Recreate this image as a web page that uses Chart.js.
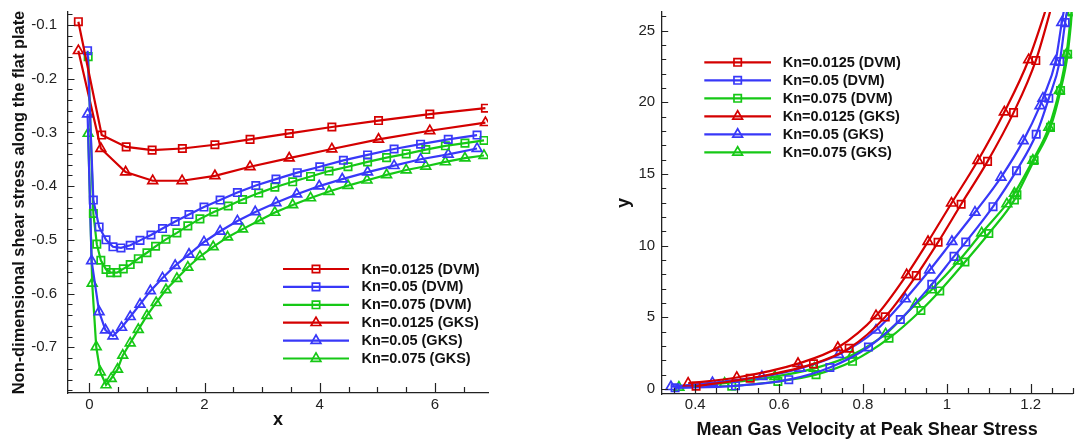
<!DOCTYPE html>
<html>
<head>
<meta charset="utf-8">
<script src="https://cdn.jsdelivr.net/npm/chart.js@4.4.1/dist/chart.umd.min.js"></script>
<style>
  html, body { margin: 0; padding: 0; background: #fff; }
  #wrap { position: relative; width: 1080px; height: 441px; overflow: hidden; }
  #shear { position: absolute; left: 0; top: 0; }
  #profile { position: absolute; left: 580px; top: 0; }
</style>
</head>
<body>
<div id="wrap">
  <canvas id="shear" width="540" height="441"></canvas>
  <canvas id="profile" width="500" height="441"></canvas>
</div>
<script>
// ---- wall shear stress along the plate ----
var dvm0125X = [-0.19, 0.215, 0.64, 1.09, 1.615, 2.18, 2.79, 3.47, 4.21, 5.02, 5.91, 6.875];
var dvm0125Y = [-0.094, -0.305, -0.327, -0.333, -0.330, -0.323, -0.313, -0.302, -0.290, -0.278, -0.266, -0.255];
var gks0125X = [-0.19, 0.20, 0.63, 1.10, 1.61, 2.18, 2.79, 3.47, 4.21, 5.02, 5.91, 6.875];
var gks0125Y = [-0.148, -0.330, -0.374, -0.390, -0.390, -0.381, -0.364, -0.348, -0.331, -0.313, -0.297, -0.282];

var dvm05X = [-0.03, 0.07, 0.17, 0.29, 0.41, 0.55, 0.71, 0.88, 1.07, 1.27, 1.49, 1.73, 1.99, 2.27, 2.57, 2.89, 3.24, 3.61, 4.00, 4.41, 4.83, 5.29, 5.75, 6.23, 6.73];
var dvm05Y = [-0.148, -0.426, -0.476, -0.500, -0.513, -0.515, -0.510, -0.501, -0.491, -0.479, -0.466, -0.453, -0.439, -0.426, -0.412, -0.399, -0.387, -0.375, -0.364, -0.352, -0.342, -0.331, -0.322, -0.313, -0.305];
var gks05X = [-0.03, 0.04, 0.17, 0.28, 0.41, 0.56, 0.71, 0.88, 1.06, 1.27, 1.49, 1.73, 1.99, 2.27, 2.57, 2.88, 3.24, 3.60, 3.99, 4.39, 4.83, 5.29, 5.75, 6.23, 6.73];
var gks05Y = [-0.266, -0.539, -0.634, -0.668, -0.679, -0.663, -0.643, -0.620, -0.595, -0.571, -0.548, -0.527, -0.504, -0.484, -0.465, -0.448, -0.431, -0.415, -0.400, -0.387, -0.374, -0.362, -0.350, -0.341, -0.330];

var dvm075X = [-0.02, 0.07, 0.13, 0.20, 0.29, 0.37, 0.48, 0.59, 0.71, 0.85, 1.00, 1.15, 1.33, 1.52, 1.71, 1.92, 2.16, 2.41, 2.66, 2.94, 3.22, 3.53, 3.84, 4.16, 4.49, 4.83, 5.16, 5.50, 5.84, 6.18, 6.52, 6.85];
var dvm075Y = [-0.159, -0.451, -0.508, -0.538, -0.555, -0.561, -0.561, -0.554, -0.546, -0.535, -0.524, -0.512, -0.499, -0.487, -0.474, -0.461, -0.448, -0.437, -0.425, -0.413, -0.402, -0.392, -0.382, -0.372, -0.364, -0.355, -0.347, -0.340, -0.332, -0.325, -0.320, -0.315];
var gks075X = [-0.02, 0.05, 0.12, 0.19, 0.29, 0.38, 0.49, 0.58, 0.71, 0.85, 1.00, 1.16, 1.33, 1.52, 1.71, 1.92, 2.15, 2.40, 2.66, 2.95, 3.22, 3.53, 3.84, 4.16, 4.49, 4.82, 5.16, 5.50, 5.84, 6.18, 6.52, 6.85];
var gks075Y = [-0.302, -0.581, -0.699, -0.746, -0.770, -0.758, -0.741, -0.715, -0.692, -0.667, -0.641, -0.617, -0.593, -0.572, -0.551, -0.531, -0.513, -0.495, -0.480, -0.464, -0.449, -0.435, -0.422, -0.410, -0.399, -0.389, -0.379, -0.370, -0.363, -0.355, -0.348, -0.343];

var shearXTicks = [0, 2, 4, 6];
var shearYTicks = [-0.7, -0.6, -0.5, -0.4, -0.3, -0.2, -0.1];

// ---- velocity profile at the peak shear location ----
var uDvm0125 = [0.402, 0.531, 0.682, 0.767, 0.853, 0.927, 0.979, 1.034, 1.097, 1.159, 1.212, 1.262];
var yDvm0125 = [0.20, 0.75, 1.75, 2.84, 5.03, 7.91, 10.24, 12.89, 15.88, 19.28, 22.91, 28];
var uGks0125 = [0.383, 0.499, 0.645, 0.740, 0.831, 0.904, 0.955, 1.011, 1.074, 1.137, 1.195, 1.253];
var yGks0125 = [0.40, 0.80, 1.77, 2.89, 5.11, 7.96, 10.28, 12.96, 15.94, 19.32, 22.97, 28];

var uDvm05 = [0.352, 0.496, 0.623, 0.721, 0.813, 0.889, 0.964, 1.017, 1.045, 1.110, 1.166, 1.213, 1.243, 1.269, 1.282, 1.296];
var yDvm05 = [0.08, 0.22, 0.65, 1.50, 2.93, 4.85, 7.30, 9.25, 10.25, 12.72, 15.23, 17.77, 20.28, 22.84, 25.56, 28];
var uGks05 = [0.342, 0.441, 0.559, 0.650, 0.742, 0.831, 0.901, 0.959, 1.012, 1.067, 1.129, 1.182, 1.222, 1.229, 1.259, 1.274, 1.289];
var yGks05 = [0.16, 0.44, 0.86, 1.44, 2.40, 4.10, 6.28, 8.30, 10.28, 12.33, 14.77, 17.31, 19.75, 20.28, 22.84, 25.56, 28];

var uDvm075 = [0.487, 0.597, 0.688, 0.775, 0.862, 0.938, 0.983, 1.043, 1.100, 1.161, 1.167, 1.208, 1.247, 1.271, 1.288, 1.299, 1.307];
var yDvm075 = [0.20, 0.52, 1.00, 1.93, 3.54, 5.48, 6.84, 8.86, 10.85, 13.19, 13.54, 15.95, 18.25, 20.82, 23.35, 26.3, 28];
var uGks075 = [0.361, 0.470, 0.590, 0.684, 0.774, 0.854, 0.926, 0.963, 1.028, 1.083, 1.143, 1.161, 1.205, 1.243, 1.268, 1.285, 1.297, 1.305];
var yGks075 = [0.12, 0.40, 0.86, 1.44, 2.37, 3.84, 5.93, 6.91, 8.93, 10.88, 12.91, 13.65, 15.95, 18.25, 20.82, 23.35, 26.3, 28];

var profileXTicks = [0.4, 0.6, 0.8, 1, 1.2];
var profileYTicks = [0, 5, 10, 15, 20, 25];

var seriesLabels = ['Kn=0.0125 (DVM)', 'Kn=0.05 (DVM)', 'Kn=0.075 (DVM)',
                    'Kn=0.0125 (GKS)', 'Kn=0.05 (GKS)', 'Kn=0.075 (GKS)'];

var RED = '#d40000', BLUE = '#3838f8', GREEN = '#16c816';
var FONT = '"Liberation Sans", Arial, Helvetica, sans-serif';

function pts(xs, ys) {
  return xs.map(function (x, i) { return { x: x, y: ys[i] }; });
}

function series(label, xs, ys, color, marker, smooth) {
  var r = marker === 'rect' ? 5.2 : 5.6;
  return {
    label: label,
    data: pts(xs, ys),
    showLine: true,
    borderColor: color,
    borderWidth: 2.2,
    pointStyle: marker,
    pointRadius: r,
    pointHoverRadius: r,
    pointBorderColor: color,
    pointBackgroundColor: 'rgba(0,0,0,0)',
    pointBorderWidth: 1.7,
    tension: 0,
    cubicInterpolationMode: smooth ? 'monotone' : 'default',
    clip: 0
  };
}

// hollow marker, same geometry as Chart.js rect / triangle
function marker(ctx, style, r, x, y) {
  ctx.beginPath();
  if (style === 'rect') {
    var s = r * Math.SQRT1_2;
    ctx.rect(x - s, y - s, 2 * s, 2 * s);
  } else {
    var a = 0;
    ctx.moveTo(x + Math.sin(a) * r, y - Math.cos(a) * r);
    a += 2 * Math.PI / 3;
    ctx.lineTo(x + Math.sin(a) * r, y - Math.cos(a) * r);
    a += 2 * Math.PI / 3;
    ctx.lineTo(x + Math.sin(a) * r, y - Math.cos(a) * r);
    ctx.closePath();
  }
  ctx.stroke();
}

// inward major/minor ticks on the bottom and left axes
var inwardTicks = {
  id: 'inwardTicks',
  afterDatasetsDraw: function (chart, args, o) {
    var ctx = chart.ctx, a = chart.chartArea;
    var xs = chart.scales.x, ys = chart.scales.y;
    ctx.save();
    ctx.strokeStyle = '#222';
    ctx.lineWidth = 1.2;
    ctx.beginPath();
    var k, v, p, major;
    for (k = Math.ceil(xs.min / o.xMinor - 1e-6); k * o.xMinor <= xs.max + 1e-9; k++) {
      v = k * o.xMinor;
      major = ((k % o.xRatio) + o.xRatio) % o.xRatio === 0;
      p = Math.round(xs.getPixelForValue(v)) + 0.5;
      ctx.moveTo(p, a.bottom);
      ctx.lineTo(p, a.bottom - (major ? 10 : 6));
    }
    for (k = Math.ceil(ys.min / o.yMinor - 1e-6); k * o.yMinor <= ys.max + 1e-9; k++) {
      v = k * o.yMinor;
      major = ((k % o.yRatio) + o.yRatio) % o.yRatio === 0;
      p = Math.round(ys.getPixelForValue(v)) + 0.5;
      ctx.moveTo(a.left, p);
      ctx.lineTo(a.left + (major ? 6.5 : 4.5), p);
    }
    ctx.stroke();
    ctx.restore();
  }
};

// legend rows: line segment, marker in the middle, bold label
var lineLegend = {
  id: 'lineLegend',
  afterDraw: function (chart, args, o) {
    var ctx = chart.ctx;
    ctx.save();
    chart.data.datasets.forEach(function (ds, i) {
      var y = o.top + i * o.gap;
      ctx.strokeStyle = ds.borderColor;
      ctx.lineWidth = ds.borderWidth;
      ctx.beginPath();
      ctx.moveTo(o.left, y);
      ctx.lineTo(o.left + o.len, y);
      ctx.stroke();
      ctx.lineWidth = ds.pointBorderWidth;
      marker(ctx, ds.pointStyle, ds.pointRadius, o.left + o.len / 2, y);
      ctx.fillStyle = '#111';
      ctx.font = 'bold 14.5px ' + FONT;
      ctx.textBaseline = 'middle';
      ctx.textAlign = 'left';
      ctx.fillText(ds.label, o.textX, y + 0.5);
    });
    ctx.restore();
  }
};

function axes(opt) {
  var tickFont = { family: FONT, size: 15 };
  return {
    x: {
      type: 'linear', min: opt.xMin, max: opt.xMax,
      grid: { display: false, drawTicks: false },
      border: { display: true, color: '#222', width: 1.3 },
      afterBuildTicks: function (s) { s.ticks = opt.xTicks.map(function (v) { return { value: v }; }); },
      afterFit: function (s) { s.height = opt.xHeight; s.paddingLeft = 0; s.paddingRight = 0; },
      ticks: { color: '#222', font: tickFont, padding: opt.xPad, maxRotation: 0,
               callback: function (v) { return String(v); } },
      title: { display: true, text: opt.xTitle, color: '#111',
               font: { family: FONT, size: 18, weight: 'bold' },
               padding: { top: 0, bottom: opt.xTitlePad } }
    },
    y: {
      type: 'linear', min: opt.yMin, max: opt.yMax,
      grid: { display: false, drawTicks: false },
      border: { display: true, color: '#222', width: 1.3 },
      afterBuildTicks: function (s) { s.ticks = opt.yTicks.map(function (v) { return { value: v }; }); },
      afterFit: function (s) { s.width = opt.yWidth; s.paddingTop = 0; s.paddingBottom = 0; },
      ticks: { color: '#222', font: tickFont, padding: opt.yPad,
               callback: function (v) { return String(v); } },
      title: { display: true, text: opt.yTitle, color: '#111',
               font: { family: FONT, size: opt.yTitleSize, weight: 'bold' },
               padding: { top: opt.yTitlePad, bottom: 0 } }
    }
  };
}

new Chart(document.getElementById('shear'), {
  type: 'scatter',
  data: {
    datasets: [
      series(seriesLabels[0], dvm0125X, dvm0125Y, RED, 'rect', false),
      series(seriesLabels[1], dvm05X, dvm05Y, BLUE, 'rect', false),
      series(seriesLabels[2], dvm075X, dvm075Y, GREEN, 'rect', false),
      series(seriesLabels[3], gks0125X, gks0125Y, RED, 'triangle', false),
      series(seriesLabels[4], gks05X, gks05Y, BLUE, 'triangle', false),
      series(seriesLabels[5], gks075X, gks075Y, GREEN, 'triangle', false)
    ]
  },
  options: {
    responsive: false,
    animation: false,
    events: [],
    layout: { padding: { top: 12, right: 52, bottom: 0, left: 0 } },
    scales: axes({
      xMin: -0.37, xMax: 6.92, xTicks: shearXTicks, xHeight: 48, xPad: 3, xTitle: 'x', xTitlePad: 9.7,
      yMin: -0.785, yMax: -0.076, yTicks: shearYTicks, yWidth: 68, yPad: 11,
      yTitle: 'Non-dimensional shear stress along the flat plate', yTitleSize: 16.4, yTitlePad: 10
    }),
    plugins: {
      legend: { display: false },
      tooltip: { enabled: false },
      inwardTicks: { xMinor: 0.5, xRatio: 4, yMinor: 0.02, yRatio: 5 },
      lineLegend: { left: 283, len: 66, top: 269, gap: 17.9, textX: 361.5 }
    }
  },
  plugins: [inwardTicks, lineLegend]
});

new Chart(document.getElementById('profile'), {
  type: 'scatter',
  data: {
    datasets: [
      series(seriesLabels[0], uDvm0125, yDvm0125, RED, 'rect', true),
      series(seriesLabels[1], uDvm05, yDvm05, BLUE, 'rect', true),
      series(seriesLabels[2], uDvm075, yDvm075, GREEN, 'rect', true),
      series(seriesLabels[3], uGks0125, yGks0125, RED, 'triangle', true),
      series(seriesLabels[4], uGks05, yGks05, BLUE, 'triangle', true),
      series(seriesLabels[5], uGks075, yGks075, GREEN, 'triangle', true)
    ]
  },
  options: {
    responsive: false,
    animation: false,
    events: [],
    layout: { padding: { top: 12, right: 0.7, bottom: 0, left: 0 } },
    scales: axes({
      xMin: 0.32, xMax: 1.30, xTicks: profileXTicks, xHeight: 47, xPad: 2,
      xTitle: 'Mean Gas Velocity at Peak Shear Stress', xTitlePad: 0.4,
      yMin: -0.35, yMax: 26.3, yTicks: profileYTicks, yWidth: 81.7, yPad: 6.5,
      yTitle: 'y', yTitleSize: 18, yTitlePad: 33
    }),
    plugins: {
      legend: { display: false },
      tooltip: { enabled: false },
      inwardTicks: { xMinor: 0.05, xRatio: 4, yMinor: 1, yRatio: 5 },
      lineLegend: { left: 124.3, len: 66.7, top: 62.3, gap: 18, textX: 202.7 }
    }
  },
  plugins: [inwardTicks, lineLegend]
});
</script>
</body>
</html>
